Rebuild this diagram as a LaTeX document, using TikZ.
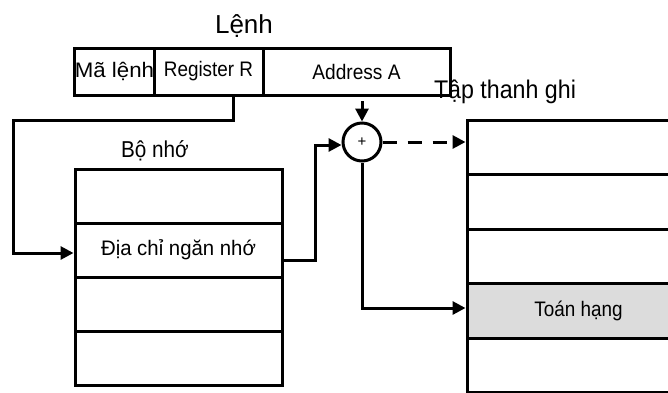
\documentclass[tikz,border=0pt]{standalone}
\usepackage{fontspec}
\setmainfont{Liberation Sans}
\usetikzlibrary{arrows.meta}
\definecolor{cellgray}{RGB}{220,220,220}
\newcommand{\sqz}[2]{\scalebox{#1}[1]{#2}}
\begin{document}
\begin{tikzpicture}[x=1pt,y=-1pt,
  cell/.style={draw,line width=3pt,inner sep=0pt,anchor=center,font=\fontsize{21}{23}\selectfont},
  title/.style={inner sep=0pt,anchor=base},
  conn/.style={line width=3pt,-{Triangle[length=13pt,width=13pt]}},
  summer/.style={draw,circle,line width=3pt,minimum size=38pt,inner sep=0pt,font=\fontsize{15}{16}\selectfont}]
\useasboundingbox (0,0) rectangle (668,392);
\clip (0,0) rectangle (668,392);
% instruction
\node[title,font=\fontsize{26}{28}\selectfont] (lenh) at (244,33) {Lệnh};
\node[cell,minimum width=79pt,minimum height=47pt] (ma) at (114.5,71.5) {\sqz{1.06}{Mã lệnh}};
\node[cell,minimum width=109pt,minimum height=47pt] (reg) at (208.5,71.5) {\sqz{0.9}{Register R}};
\node[cell,minimum width=187pt,minimum height=47pt] (addr) at (356.5,71.5) {\sqz{0.91}{Address A}};
% memory
\node[title,font=\fontsize{23}{25}\selectfont] (bonho) at (155,157) {\sqz{0.9}{Bộ nhớ}};
\node[cell,minimum width=207pt,minimum height=54pt] (m1) at (178.5,196) {};
\node[cell,minimum width=207pt,minimum height=54pt] (m2) at (178.5,250) {\sqz{0.97}{Địa chỉ ngăn nhớ}};
\node[cell,minimum width=207pt,minimum height=54pt] (m3) at (178.5,304) {};
\node[cell,minimum width=207pt,minimum height=54pt] (m4) at (178.5,358) {};
% register file
\node[cell,minimum width=223pt,minimum height=54.5pt] (r1) at (578.5,147.5) {};
\node[cell,minimum width=223pt,minimum height=54.5pt] (r2) at (578.5,202) {};
\node[cell,minimum width=223pt,minimum height=54.5pt] (r3) at (578.5,256.5) {};
\node[cell,minimum width=223pt,minimum height=54.5pt,fill=cellgray] (r4) at (578.5,311) {\sqz{0.9}{Toán hạng}};
\node[cell,minimum width=223pt,minimum height=54.5pt] (r5) at (578.5,365.5) {};
\node[title,font=\fontsize{25.5}{27}\selectfont] (tap) at (505,98) {\sqz{0.91}{Tập thanh ghi}};
% adder
\node[summer] (sum) at (362,142) {+};
% connectors
\coordinate (rfrom) at (233,95);
\coordinate (afrom) at (362,101);
\draw[conn] (rfrom) -- (233,120) -- (13,120) -- (13,253) -- (m2.west |- 0,253);
\draw[conn] (m2.east |- 0,260) -- (315,260) -- (315,145) -- (sum.west |- 0,145);
\draw[conn] (afrom) -- (sum.north);
\draw[conn,dash pattern=on 14pt off 11pt] (sum.east) -- (r1.west |- sum.east);
\draw[conn] (sum.south) -- (362,308) -- (r4.west |- 0,308);
\end{tikzpicture}
\end{document}
